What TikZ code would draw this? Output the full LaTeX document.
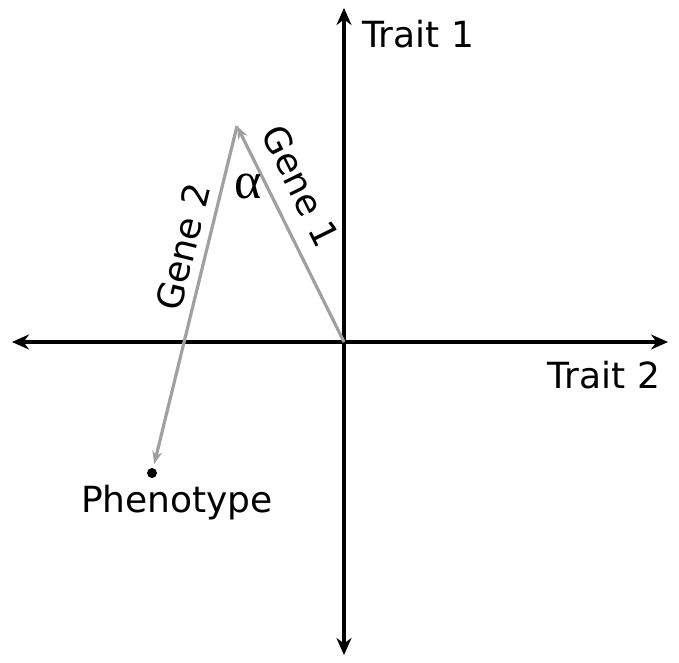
\documentclass[tikz,border=0pt]{standalone}
\usepackage{fontspec}
\setmainfont{DejaVu Sans}
\newfontfamily\greekfont{Liberation Serif}
\usetikzlibrary{arrows.meta, positioning}
\definecolor{genegray}{HTML}{A0A0A0}

\begin{document}
\begin{tikzpicture}[x=1pt, y=-1pt,
  axis/.style={line width=3.5pt, {Stealth[length=17pt,width=15pt]}-{Stealth[length=17pt,width=15pt]}},
  gene/.style={line width=3.2pt, genegray, -{Stealth[length=13pt,width=10pt]}},
  lbl/.style={font=\fontsize{36}{40}\selectfont, inner sep=0pt},
]
  \useasboundingbox (0,0) rectangle (679,662);

  % Axes
  \coordinate (west)  at (12,342);
  \coordinate (east)  at (668,342);
  \coordinate (north) at (344,8);
  \coordinate (south) at (344,655);
  \coordinate (origin) at (344,342);
  \draw[axis] (west) -- (east);
  \draw[axis] (south) -- (north);
  \node[lbl, anchor=west] (trait1) at (362,34) {Trait 1};
  \node[lbl] (trait2) at (604,375) {Trait 2};

  % Gene vectors
  \coordinate (top) at (237,126);
  \node[circle, fill=black, inner sep=0pt, minimum size=10pt] (pheno) at (152,473) {};
  \draw[gene] (origin) -- (top);
  \draw[gene, shorten >=4pt] (top) -- (pheno);

  \node[lbl, rotate=-63.8] (gene1) at (301,186) {Gene 1};
  \node[lbl, rotate=76] (gene2) at (183,247) {Gene 2};
  \node[font=\greekfont\fontsize{52}{56}\selectfont, inner sep=0pt] (alpha) at (248,186) {α};
  \node[lbl, below=7pt of pheno, xshift=25pt] (phenolbl) {Phenotype};
\end{tikzpicture}
\end{document}
